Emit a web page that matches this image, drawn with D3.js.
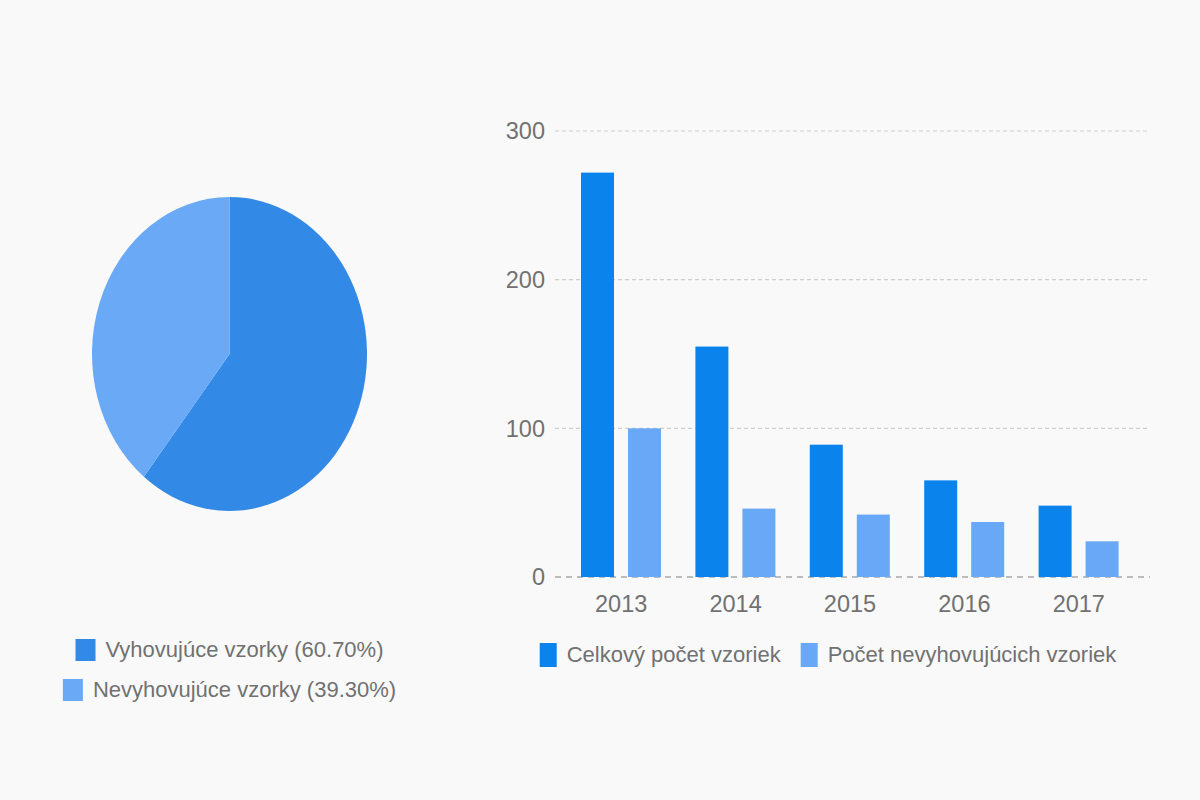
<!DOCTYPE html>
<html><head><meta charset="utf-8">
<script src="https://cdn.jsdelivr.net/npm/d3@7"></script>
<style>html,body{margin:0;padding:0;background:#f9f9f9;}svg{display:block;}</style>
</head><body>
<svg id="c" width="1200" height="800"></svg>
<script>
const pieLabels = ["Vyhovujúce vzorky (60.70%)", "Nevyhovujúce vzorky (39.30%)"];
const pieValues = [60.7, 39.3];
const years = ["2013", "2014", "2015", "2016", "2017"];
const seriesNames = ["Celkový počet vzoriek", "Počet nevyhovujúcich vzoriek"];
const totalSamples = [272, 155, 89, 65, 48];
const failedSamples = [100, 46, 42, 37, 24];
const yTicks = [0, 100, 200, 300];

const pieColors = ["#3389e6", "#6aa9f6"];
const barColors = ["#0a84ec", "#68a8f6"];
const textColor = "#717171";
const font = "'Liberation Sans', Arial, Helvetica, sans-serif";

const svg = d3.select("#c");
svg.append("rect").attr("width",1200).attr("height",800).attr("fill","#f9f9f9");

// ---- Pie ----
const cx = 229.5, cy = 354, ry = 157, rx = 137.5;
const pieG = svg.append("g").attr("transform", `translate(${cx},${cy}) scale(${rx/ry},1)`);
const arcs = d3.pie().sort(null)(pieValues);
const arc = d3.arc().innerRadius(0).outerRadius(ry);
pieG.selectAll("path").data(arcs).join("path")
  .attr("d", arc).attr("fill", (d,i)=>pieColors[i]);

// pie legend (each line centered on pie center)
const pl = svg.append("g");
pieLabels.forEach((lab,i)=>{
  const g = pl.append("g");
  const t = g.append("text").text(lab).attr("font-family",font).attr("font-size",22)
    .attr("fill",textColor).attr("x",30).attr("y",0);
  const w = t.node().getComputedTextLength();
  g.append("rect").attr("x",0).attr("y",-18).attr("width",20).attr("height",22).attr("fill",pieColors[i]);
  const total = 30 + w;
  g.attr("transform", `translate(${cx - total/2},${657 + i*40})`);
});

// ---- Bars ----
const x0 = d3.scaleBand().domain(years).range([564, 1136]).padding(0);
const x1 = d3.scaleBand().domain(seriesNames).range([17, 97]).paddingInner(0.298).paddingOuter(0);
const y = d3.scaleLinear().domain([0,300]).range([577,131]);

const grid = svg.append("g");
yTicks.forEach(v=>{
  grid.append("line").attr("x1",555).attr("x2",1150).attr("y1",y(v)).attr("y2",y(v))
    .attr("stroke", v===0 ? "#a8a8a8" : "#cfcfcf")
    .attr("stroke-width", v===0 ? 1.5 : 1.2)
    .attr("stroke-dasharray", v===0 ? "6,5" : "4,3");
  grid.append("text").attr("x",545).attr("y",y(v)).attr("dy","0.36em")
    .attr("text-anchor","end").attr("font-family",font).attr("font-size",23.5)
    .attr("fill",textColor).text(v);
});

const seriesData = [totalSamples, failedSamples];
const bars = svg.append("g");
years.forEach((yr,i)=>{
  seriesNames.forEach((s,j)=>{
    const v = seriesData[j][i];
    bars.append("rect").attr("x", x0(yr)+x1(s)).attr("width", x1.bandwidth())
      .attr("y", y(v)).attr("height", y(0)-y(v)).attr("fill", barColors[j]);
  });
  svg.append("text").attr("x", x0(yr)+x0.bandwidth()/2).attr("y",612)
    .attr("text-anchor","middle").attr("font-family",font).attr("font-size",23.5)
    .attr("fill",textColor).text(yr);
});

// bar legend
const bl = svg.append("g");
let xpos = 0;
seriesNames.forEach((s,j)=>{
  bl.append("rect").attr("x",xpos).attr("y",-19).attr("width",17).attr("height",24).attr("fill",barColors[j]);
  const t = bl.append("text").attr("x",xpos+27).attr("y",0).attr("font-family",font).attr("font-size",22)
    .attr("fill",textColor).text(s);
  xpos += 27 + t.node().getComputedTextLength() + 20;
});
const blw = xpos - 20;
bl.attr("transform", `translate(${828 - blw/2},662)`);
</script>
</body></html>
